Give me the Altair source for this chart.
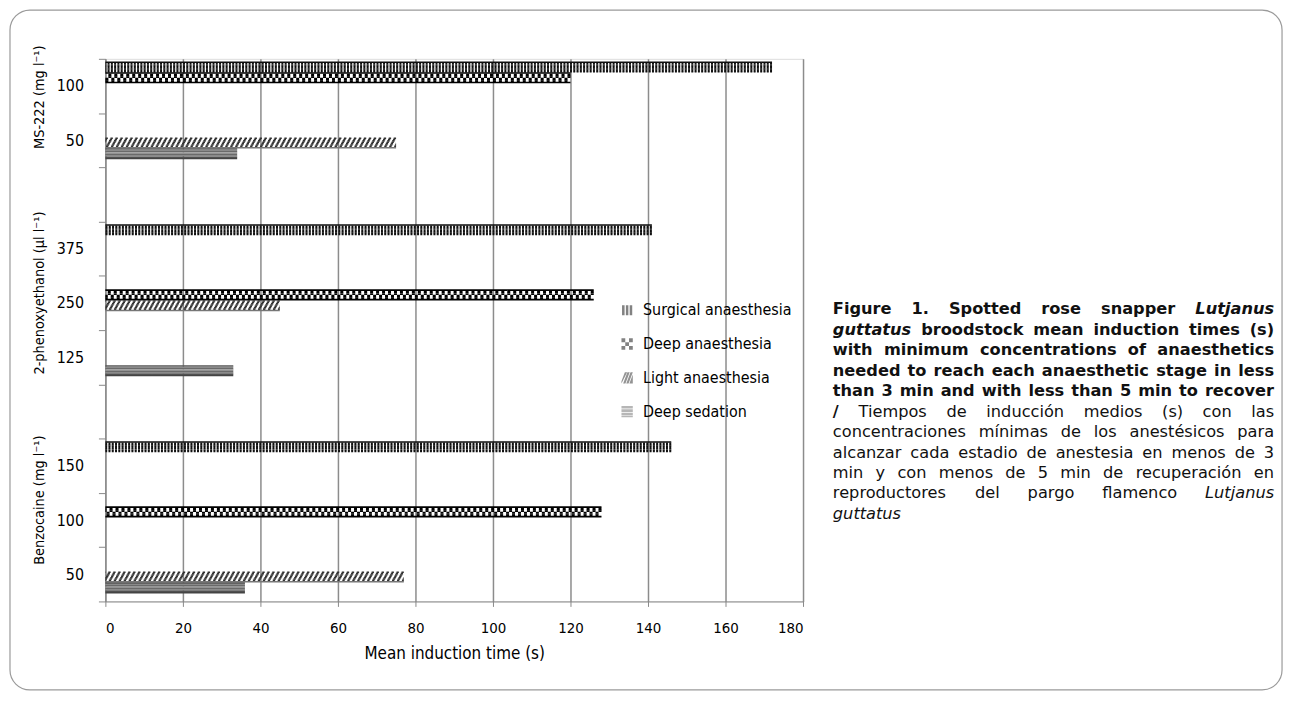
import altair as alt
import pandas as pd

# ---------------- data ----------------
drugs = ["Benzocaine", "Benzocaine", "Benzocaine",
         "2-phenoxyethanol", "2-phenoxyethanol", "2-phenoxyethanol",
         "MS-222", "MS-222"]
doses = ["50", "100", "150", "125", "250", "375", "50", "100"]

series_names = ["Surgical anaesthesia", "Deep anaesthesia",
                "Light anaesthesia", "Deep sedation"]

surgical = [None, None, 146, None, None, 141, None, 172]
deep_anaesthesia = [None, 128, None, None, 126, None, None, 120]
light_anaesthesia = [77, None, None, None, 45, None, 75, None]
deep_sedation = [36, None, None, 33, None, None, 34, None]

group_labels = ["Benzocaine (mg l\u207b\u00b9)",
                "2-phenoxyethanol (\u00b5l l\u207b\u00b9)",
                "MS-222 (mg l\u207b\u00b9)"]
group_anchor = ["Benzocaine|100", "2-phenoxyethanol|250", "MS-222|100"]

x_ticks = [0, 20, 40, 60, 80, 100, 120, 140, 160, 180]

# caption: each line is a list of (text, style) segments; lines are justified
caption_lines = [
    [("Figure 1. Spotted rose snapper", "b"), ("Lutjanus", "bi")],
    [("guttatus", "bi"), ("broodstock mean induction times (s)", "b")],
    [("with minimum concentrations of anaesthetics", "b")],
    [("needed to reach each anaesthetic stage in less", "b")],
    [("than 3 min and with less than 5 min to recover", "b")],
    [("/", "b"), ("Tiempos de inducción medios (s) con las", "r")],
    [("concentraciones mínimas de los anestésicos para", "r")],
    [("alcanzar cada estadio de anestesia en menos de 3", "r")],
    [("min y con menos de 5 min de recuperación en", "r")],
    [("reproductores del pargo flamenco", "r"), ("Lutjanus", "i")],
    [("guttatus", "i")],
]

# ---------------- table construction ----------------
cat_keys = [f"{d}|{v}" for d, v in zip(drugs, doses)]
cat_domain = ["MS-222|100", "MS-222|50", "gap2|",
              "2-phenoxyethanol|375", "2-phenoxyethanol|250", "2-phenoxyethanol|125",
              "gap1|", "Benzocaine|150", "Benzocaine|100", "Benzocaine|50"]

series_values = dict(zip(series_names,
                         [surgical, deep_anaesthesia, light_anaesthesia, deep_sedation]))

# fill patterns drawn as rows of dashed strokes (style only)
R = 8


def diag(shift, period=5.0, on=2.4):
    s = shift % period
    if s + on <= period:
        return [0, round(s, 2), on, round(period - on - s, 2)]
    return [round(s + on - period, 2), round(period - on, 2), round(period - s, 2), 0]


dash_defs = {"solid": [1, 0], "vstripe": [2, 1.3], "chkA": [3, 3], "chkB": [0, 3, 3, 0]}
for r in range(R):
    dash_defs[f"diag{r}"] = diag(r * 0.75)

row_style = {
    "Surgical anaesthesia": [("solid", "#111")] + [("vstripe", "#111")] * (R - 1),
    "Deep anaesthesia": [("solid", "#000")] + [("chkA", "#000")] * 3 + [("chkB", "#000")] * 3 + [("solid", "#000")],
    "Light anaesthesia": [(f"diag{r}", "#333") for r in range(R - 1)] + [("solid", "#777")],
    "Deep sedation": [("solid", c) for c in ["#555", "#8a8a8a", "#6a6a6a", "#a0a0a0",
                                            "#6a6a6a", "#8a8a8a", "#555", "#444"]],
}

# empty sub-rows above / below the cluster act as band padding
sub_domain = (["padT0", "padT1"]
              + [f"{s}|{r}" for s in series_names for r in range(R)]
              + [f"padB{i}" for i in range(6)])

rows = []
for s in series_names:
    for key, v in zip(cat_keys, series_values[s]):
        if v is None:
            continue
        for r, (dk, ink) in enumerate(row_style[s]):
            rows.append({"cat": key, "series": s, "sub": f"{s}|{r}",
                         "value": v, "zero": 0, "dash": dk, "ink": ink})
bars_df = pd.DataFrame(rows)

FONT = "DejaVu Sans Condensed, Liberation Sans Narrow, DejaVu Sans, sans-serif"
CAP_FONT = "DejaVu Sans, Verdana, sans-serif"

y_scale = alt.Scale(type="band", domain=cat_domain, paddingInner=0, paddingOuter=0)
x_scale = alt.Scale(domain=[0, 180], nice=False, zero=True)

bars = alt.Chart(bars_df).mark_rule(strokeWidth=1.6, strokeCap="butt").encode(
    x=alt.X("value:Q", scale=x_scale,
            axis=alt.Axis(values=x_ticks, title="Mean induction time (s)", grid=True,
                          gridColor="#8c8c8c", gridWidth=1.5, tickSize=5,
                          tickColor="#888", domainColor="#888", labelFontSize=15,
                          labelPadding=14, labelFont=FONT, labelColor="#000",
                          titleFont=FONT, titleFontSize=17, titleFontWeight="normal",
                          titleColor="#000", titlePadding=10)),
    x2="zero:Q",
    y=alt.Y("cat:N", scale=y_scale,
            axis=alt.Axis(title=None, labelExpr="split(datum.value,'|')[1]",
                          tickBand="extent", tickSize=7, tickColor="#888",
                          domainColor="#888", labelFontSize=16, labelFont=FONT,
                          labelColor="#000", labelPadding=15, grid=False)),
    yOffset=alt.YOffset("sub:N", scale=alt.Scale(domain=sub_domain, paddingOuter=0,
                                                 paddingInner=0)),
    stroke=alt.Stroke("ink:N", scale=None),
    strokeDash=alt.StrokeDash("dash:N", scale=alt.Scale(domain=list(dash_defs.keys()),
                                                         range=list(dash_defs.values())),
                              legend=None),
)

# legend built from a hidden point layer with pattern-like custom symbols
symbol_paths = [
    "M-0.9,-0.9H-0.45V0.9H-0.9Z M-0.22,-0.9H0.22V0.9H-0.22Z M0.45,-0.9H0.9V0.9H0.45Z",
    "M-1,-1H-0.33V-0.33H-1Z M0.33,-1H1V-0.33H0.33Z M-0.33,-0.33H0.33V0.33H-0.33Z "
    "M-1,0.33H-0.33V1H-1Z M0.33,0.33H1V1H0.33Z",
    "M-1,0.6L-0.4,-1H0L-1,1Z M-0.7,1L0.05,-1H0.45L-0.3,1Z M-0.15,1L0.6,-1H1L0.25,1Z M0.4,1L1,-0.6V1Z",
    "M-1,-1H1V-0.55H-1Z M-1,-0.4H1V0.05H-1Z M-1,0.2H1V0.65H-1Z M-1,0.75H1V1H-1Z",
]
legend_df = pd.DataFrame({"series": series_names})
leg = alt.Legend(title=None, orient="none", legendX=517, legendY=245,
                 labelFontSize=16, labelFont=FONT, labelColor="#000",
                 symbolSize=130, rowPadding=18, labelOffset=8, padding=0,
                 symbolStrokeWidth=0)
legend_points = alt.Chart(legend_df).mark_point(filled=True, size=0).encode(
    x=alt.value(0), y=alt.value(0),
    shape=alt.Shape("series:N", scale=alt.Scale(domain=series_names, range=symbol_paths),
                    legend=leg),
    fill=alt.Fill("series:N", scale=alt.Scale(domain=series_names,
                                              range=["#000", "#000", "#222", "#6a6a6a"]),
                  legend=leg),
)

# rotated group labels on the category axis (each nudged along its reading direction)
grp_df = pd.DataFrame({"label": group_labels, "cat": group_anchor})
grp_layers = []
for i, (band_pos, shift) in enumerate([(0.5, 20), (0.5, 10), (1.0, 16)]):
    grp_layers.append(
        alt.Chart(grp_df.iloc[i:i + 1]).mark_text(
            angle=270, font=FONT, fontSize=14.5, align="center", baseline="middle",
            color="#000", dx=shift
        ).encode(y=alt.Y("cat:N", scale=y_scale, bandPosition=band_pos),
                 x=alt.value(-66), text="label:N")
    )

# ---------------- justified caption ----------------
# approximate DejaVu Sans advance widths (em) used to spread words across the line
W_REG = dict(zip("abcdefghijklmnopqrstuvwxyz",
                 [.613, .635, .550, .635, .615, .352, .635, .634, .278, .278, .579, .278, .974,
                  .634, .612, .635, .635, .411, .521, .392, .634, .592, .818, .592, .592, .525]))
W_BOLD = dict(zip("abcdefghijklmnopqrstuvwxyz",
                  [.675, .716, .593, .716, .678, .435, .716, .712, .343, .343, .665, .343, 1.042,
                   .712, .687, .716, .716, .493, .595, .478, .712, .652, .924, .645, .652, .582]))
W_REG.update({"(": .390, ")": .390, ".": .318, "/": .337, "F": .575, "T": .611, "L": .557})
W_BOLD.update({"(": .457, ")": .457, ".": .380, "/": .365, "F": .683, "T": .682, "L": .637})
ACCENT = str.maketrans("áéíóú", "aeiou")
CAP_SIZE = 16.3


def word_width(word, bold):
    table = W_BOLD if bold else W_REG
    dig = .696 if bold else .636
    w = 0.0
    for ch in word.translate(ACCENT):
        w += dig if ch.isdigit() else table.get(ch, .69 if bold else .62)
    return w * CAP_SIZE


one = pd.DataFrame({"a": [0]})
style_props = {"b": ("bold", "normal"), "bi": ("bold", "italic"),
               "r": ("normal", "normal"), "i": ("normal", "italic")}
CAP_LEFT, CAP_RIGHT = 732, 1176
CAP_TOP = 252       # centre of first caption line, relative to plot top
CAP_STEP = 20.6     # line spacing
caption_layers = []
for li, segs in enumerate(caption_lines):
    words = [(w, st) for txt, st in segs for w in txt.split()]
    widths = [word_width(w, style_props[st][0] == "bold") for w, st in words]
    last_line = li == len(caption_lines) - 1
    n = len(words)
    if last_line or n == 1:
        gap = 0.3 * CAP_SIZE
    else:
        gap = (CAP_RIGHT - CAP_LEFT - sum(widths)) / (n - 1)
    x = CAP_LEFT
    for k, ((w, st), ew) in enumerate(zip(words, widths)):
        if k == 0:
            align, xpos = "left", x
        elif k == n - 1 and not last_line:
            align, xpos = "right", CAP_RIGHT
        else:
            align, xpos = "center", x + ew / 2
        fw, fs = style_props[st]
        caption_layers.append(
            alt.Chart(one).mark_text(
                align=align, baseline="middle", font=CAP_FONT, fontSize=CAP_SIZE,
                fontWeight=fw, fontStyle=fs, color="#111"
            ).encode(x=alt.value(round(xpos, 1)), y=alt.value(CAP_TOP + li * CAP_STEP),
                     text=alt.value(w))
        )
        x += ew + gap

frame = alt.Chart(one).mark_rect(
    fill=None, stroke="#9a9a9a", strokeWidth=1.2, cornerRadius=20
).encode(x=alt.value(-96), x2=alt.value(1184), y=alt.value(-49), y2=alt.value(635))

chart = alt.layer(frame, bars, legend_points, *grp_layers, *caption_layers).properties(
    width=702, height=546,
    autosize=alt.AutoSizeParams(type="none"),
    padding={"left": 98, "top": 49, "right": 488, "bottom": 90},
).configure_view(stroke=None).configure(background="white")

chart.save("out.html", embed_options={"renderer": "svg", "actions": False})
